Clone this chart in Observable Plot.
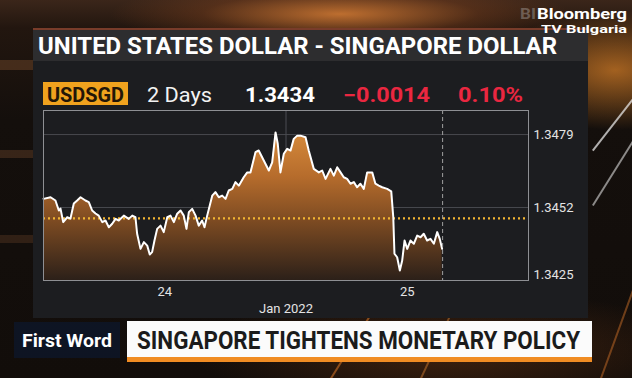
<!DOCTYPE html>
<html>
<head>
<meta charset="utf-8">
<script src="https://cdn.jsdelivr.net/npm/d3@7"></script>
<script src="https://cdn.jsdelivr.net/npm/@observablehq/plot@0.6"></script>
<style>
  html, body { margin: 0; padding: 0; }
  body {
    width: 632px; height: 378px; overflow: hidden; position: relative;
    font-family: Roboto, "Liberation Sans", sans-serif;
    background:
      radial-gradient(ellipse 230px 34px at 340px 14px, rgba(214,124,52,0.85), rgba(140,70,30,0.35) 60%, rgba(0,0,0,0) 100%),
      radial-gradient(ellipse 120px 60px at 615px 70px, rgba(220,130,40,0.7), rgba(0,0,0,0) 100%),
      radial-gradient(ellipse 260px 60px at 450px 350px, rgba(120,60,20,0.45), rgba(0,0,0,0) 100%),
      linear-gradient(180deg, #3b261a 0px, #22160f 28px, #140f0c 120px, #120d0a 100%);
  }
  .abs { position: absolute; white-space: nowrap; line-height: 1; transform-origin: 0 0; }
  .streak { position: absolute; height: 2px; transform-origin: 0 0; }
</style>
</head>
<body>
<!-- background decoration -->
<div class="streak" style="left:0;top:60px;width:33px;height:10px;background:rgba(110,70,40,.5)"></div>
<div class="streak" style="left:0;top:150px;width:33px;height:8px;background:rgba(100,65,40,.45)"></div>
<div class="streak" style="left:0;top:235px;width:33px;height:8px;background:rgba(95,60,38,.4)"></div>
<div class="streak" style="left:592px;top:150px;width:90px;background:rgba(230,230,230,.75);transform:rotate(-52deg)"></div>
<div class="streak" style="left:592px;top:205px;width:110px;background:rgba(220,220,220,.6);transform:rotate(-58deg)"></div>
<div class="streak" style="left:600px;top:378px;width:170px;background:rgba(200,110,40,.5);transform:rotate(-70deg)"></div>
<div class="streak" style="left:330px;top:378px;width:90px;background:rgba(220,120,40,.55);transform:rotate(-58deg)"></div>
<div class="streak" style="left:420px;top:378px;width:80px;background:rgba(220,130,50,.45);transform:rotate(-65deg)"></div>

<!-- panels -->
<div class="abs" style="left:33px;top:28px;width:555px;height:33px;background:#2d2d2f;border-top:2px solid rgba(170,70,40,.6)"></div>
<div class="abs" style="left:33px;top:61px;width:555px;height:257px;background:#1c1d20"></div>

<div id="chart" class="abs" style="left:0;top:0"></div>

<!-- texts -->
<div class="abs fit" data-l="38" data-c="38" data-w="519" data-f="23.5" style="font-weight:700;color:#fff">UNITED STATES DOLLAR - SINGAPORE DOLLAR</div>

<div class="abs" style="left:43px;top:82px;width:85px;height:23px;background:#f0a21e"></div>
<div class="abs fit" data-l="47" data-c="88" data-w="77" data-f="20" style="font-weight:700;color:#231607">USDSGD</div>
<div class="abs fit" data-l="147" data-c="88" data-w="65" data-f="20" style="font-weight:400;color:#f2f2f2">2 Days</div>
<div class="abs fit" data-l="245" data-c="88" data-w="70" data-f="20" style="font-weight:700;color:#ffffff">1.3434</div>
<div class="abs fit" data-l="343" data-c="88" data-w="87" data-f="20" style="font-weight:700;color:#ea2740">&#8722;0.0014</div>
<div class="abs fit" data-l="458" data-c="88" data-w="65" data-f="20" style="font-weight:700;color:#ea2740">0.10%</div>

<div class="abs" style="left:14px;top:322px;width:106px;height:36px;background:rgba(14,22,40,.85)"></div>
<div class="abs fit" data-l="22" data-c="333" data-w="90" data-f="19" style="font-weight:700;color:#fff">First Word</div>
<div class="abs" style="left:127px;top:321px;width:465px;height:36px;background:#fbfbfb"></div>
<div class="abs" style="left:127px;top:357px;width:465px;height:5px;background:#f08c23"></div>
<div class="abs fit" data-l="137" data-c="330" data-w="443" data-f="26.5" style="font-weight:700;color:#1b1b1b">SINGAPORE TIGHTENS MONETARY POLICY</div>

<div class="abs fit" data-l="520" data-c="9" data-w="16" data-f="15" style="font-weight:700;color:rgba(200,200,200,.35)">BI</div>
<div class="abs fit" data-l="537" data-c="8.5" data-w="90" data-f="15" style="font-weight:700;color:#fff">Bloomberg</div>
<div class="abs fit" data-l="541" data-c="25.5" data-w="86" data-f="11" style="font-weight:700;color:#fff">TV Bulgaria</div>

<script>
// ---- data (USD/SGD, UTC times) ----
const times = [
  "2022-01-23T12:00Z","2022-01-23T12:42Z","2022-01-23T13:11Z","2022-01-23T13:31Z","2022-01-23T13:41Z","2022-01-23T13:57Z",
  "2022-01-23T14:21Z","2022-01-23T14:40Z","2022-01-23T15:00Z","2022-01-23T15:20Z","2022-01-23T15:40Z","2022-01-23T16:09Z",
  "2022-01-23T16:29Z","2022-01-23T16:49Z","2022-01-23T17:09Z","2022-01-23T17:28Z","2022-01-23T17:49Z","2022-01-23T18:08Z",
  "2022-01-23T18:28Z","2022-01-23T18:48Z","2022-01-23T19:08Z","2022-01-23T19:27Z","2022-01-23T19:57Z","2022-01-23T20:26Z",
  "2022-01-23T20:47Z","2022-01-23T21:06Z","2022-01-23T21:16Z","2022-01-23T21:36Z","2022-01-23T21:56Z","2022-01-23T22:16Z",
  "2022-01-23T22:31Z","2022-01-23T22:45Z","2022-01-23T22:59Z","2022-01-23T23:15Z","2022-01-23T23:35Z","2022-01-23T23:54Z",
  "2022-01-24T00:15Z","2022-01-24T00:34Z","2022-01-24T00:54Z","2022-01-24T01:14Z","2022-01-24T01:34Z","2022-01-24T01:53Z",
  "2022-01-24T02:09Z","2022-01-24T02:23Z","2022-01-24T02:43Z","2022-01-24T03:03Z","2022-01-24T03:22Z","2022-01-24T03:42Z",
  "2022-01-24T03:56Z","2022-01-24T04:12Z","2022-01-24T04:42Z","2022-01-24T05:01Z","2022-01-24T05:21Z","2022-01-24T05:41Z",
  "2022-01-24T06:01Z","2022-01-24T06:20Z","2022-01-24T06:41Z","2022-01-24T07:00Z","2022-01-24T07:20Z","2022-01-24T07:49Z",
  "2022-01-24T08:10Z","2022-01-24T08:29Z","2022-01-24T08:59Z","2022-01-24T09:18Z","2022-01-24T09:48Z","2022-01-24T10:18Z",
  "2022-01-24T10:38Z","2022-01-24T10:58Z","2022-01-24T11:11Z","2022-01-24T11:27Z","2022-01-24T11:47Z","2022-01-24T12:07Z",
  "2022-01-24T12:27Z","2022-01-24T12:46Z","2022-01-24T13:07Z","2022-01-24T13:26Z","2022-01-24T13:56Z","2022-01-24T14:15Z",
  "2022-01-24T14:45Z","2022-01-24T15:15Z","2022-01-24T15:35Z","2022-01-24T15:55Z","2022-01-24T16:24Z","2022-01-24T16:44Z",
  "2022-01-24T17:04Z","2022-01-24T17:24Z","2022-01-24T17:43Z","2022-01-24T18:03Z","2022-01-24T18:23Z","2022-01-24T18:43Z",
  "2022-01-24T19:02Z","2022-01-24T19:22Z","2022-01-24T19:42Z","2022-01-24T20:02Z","2022-01-24T20:32Z","2022-01-24T20:51Z",
  "2022-01-24T21:11Z","2022-01-24T21:31Z","2022-01-24T22:01Z","2022-01-24T22:25Z","2022-01-24T22:37Z","2022-01-24T22:44Z",
  "2022-01-24T23:00Z","2022-01-24T23:16Z","2022-01-24T23:30Z","2022-01-24T23:44Z",
  "2022-01-25T00:00Z","2022-01-25T00:19Z","2022-01-25T00:39Z","2022-01-25T00:59Z","2022-01-25T01:19Z","2022-01-25T01:38Z",
  "2022-01-25T01:58Z","2022-01-25T02:18Z","2022-01-25T02:38Z","2022-01-25T02:58Z","2022-01-25T03:13Z","2022-01-25T03:27Z"
];
const values = [
  1.34552,1.34558,1.34546,1.34509,1.34516,1.34466,1.34484,1.34479,1.34535,1.34546,
  1.34558,1.34546,1.34540,1.34509,1.34498,1.34490,1.34466,1.34472,1.34447,1.34460,
  1.34478,1.34472,1.34490,1.34478,1.34490,1.34484,1.34423,1.34367,1.34392,1.34379,
  1.34346,1.34355,1.34398,1.34441,1.34453,1.34429,
  1.34484,1.34490,1.34466,1.34497,1.34509,1.34490,1.34441,1.34503,1.34515,1.34490,
  1.34453,1.34472,1.34447,1.34490,1.34564,1.34577,1.34558,1.34564,1.34552,1.34583,
  1.34589,1.34614,1.34601,1.34632,1.34650,1.34650,1.34725,1.34731,1.34694,1.34657,
  1.34687,1.34798,1.34756,1.34650,1.34719,1.34737,1.34731,1.34774,1.34786,1.34786,
  1.34780,1.34731,1.34663,1.34650,1.34657,1.34626,1.34663,1.34638,1.34669,1.34650,
  1.34632,1.34626,1.34608,1.34614,1.34595,1.34608,1.34589,1.34650,1.34650,1.34608,
  1.34601,1.34595,1.34589,1.34580,1.34484,1.34349,1.34336,1.34287,1.34324,1.34398,
  1.34367,1.34398,1.34386,1.34416,1.34410,1.34423,1.34398,1.34404,1.34386,1.34429,1.34404,1.34367
];
const prevClose = 1.3448;
const yDomain = [1.3425, 1.34879];
const yTicks = [1.3479, 1.3452, 1.3425];
const xDomain = ["2022-01-23T12:00Z", "2022-01-25T12:00Z"];
const xTicks = ["2022-01-24T00:00Z", "2022-01-25T00:00Z"];
const xTickLabels = ["24", "25"];
const monthTick = "2022-01-24T12:00Z";
const monthLabel = "Jan 2022";
const nowTime = "2022-01-25T03:30Z";

const data = times.map((t, i) => ({t: new Date(t), v: values[i]}));
const xTickDates = xTicks.map(d => new Date(d));
const fmtX = d => xTickLabels[xTickDates.findIndex(x => +x === +d)];

const defs = () => {
  const d = d3.create("svg:defs");
  const g = d.append("linearGradient").attr("id", "usdsgdFill")
    .attr("x1", 0).attr("x2", 0).attr("y1", 0).attr("y2", 1);
  [[0, "#d68a3b"], [0.3, "#b66c2c"], [0.6, "#7d4b22"], [1, "#2c2019"]]
    .forEach(([o, c]) => g.append("stop").attr("offset", o).attr("stop-color", c));
  return d.node();
};

const chart = Plot.plot({
  width: 632,
  height: 378,
  marginLeft: 43,
  marginRight: 104,
  marginTop: 110,
  marginBottom: 98,
  style: {background: "transparent", color: "#e4e4e4", fontFamily: "Roboto, sans-serif", fontSize: "13px"},
  x: {type: "utc", domain: xDomain.map(d => new Date(d))},
  y: {domain: yDomain},
  marks: [
    defs,
    Plot.gridY(yTicks.slice(0, 2), {stroke: "#5a5c63", strokeOpacity: 0.7}),
    Plot.ruleX([new Date(monthTick)], {stroke: "#4a4c52"}),
    Plot.areaY(data, {x: "t", y1: yDomain[0], y2: "v", fill: "url(#usdsgdFill)"}),
    Plot.ruleY([prevClose], {stroke: "#f3b532", strokeWidth: 2.2, strokeDasharray: "2,3"}),
    Plot.lineY(data, {x: "t", y: "v", stroke: "#ffffff", strokeWidth: 2}),
    Plot.ruleX([new Date(nowTime)], {stroke: "#a0a0a0", strokeDasharray: "4,3"}),
    Plot.frame({stroke: "#8e8f93"}),
    Plot.axisY(yTicks.slice(0, 2), {anchor: "right", tickSize: 0, tickPadding: 5, tickFormat: d3.format(".4f"), label: null}),
    Plot.axisY(yTicks.slice(2), {anchor: "right", tickSize: 0, tickPadding: 5, dy: -6, tickFormat: d3.format(".4f"), label: null}),
    Plot.axisX(xTickDates, {anchor: "bottom", tickSize: 0, tickPadding: 6, tickFormat: fmtX, label: null}),
    Plot.axisX([new Date(monthTick)], {anchor: "bottom", tickSize: 0, tickPadding: 23, tickFormat: () => monthLabel, label: null})
  ]
});
document.getElementById("chart").appendChild(chart);

// place and fit overlay texts (Roboto: cap top ~0.131em below box top with line-height 1)
document.querySelectorAll(".fit").forEach(el => {
  const f = +el.dataset.f;
  el.style.fontSize = f + "px";
  el.style.left = el.dataset.l + "px";
  el.style.top = (+el.dataset.c - 0.131 * f) + "px";
  const w = el.getBoundingClientRect().width;
  el.style.transform = `scaleX(${(+el.dataset.w / w).toFixed(4)})`;
});
</script>
</body>
</html>
